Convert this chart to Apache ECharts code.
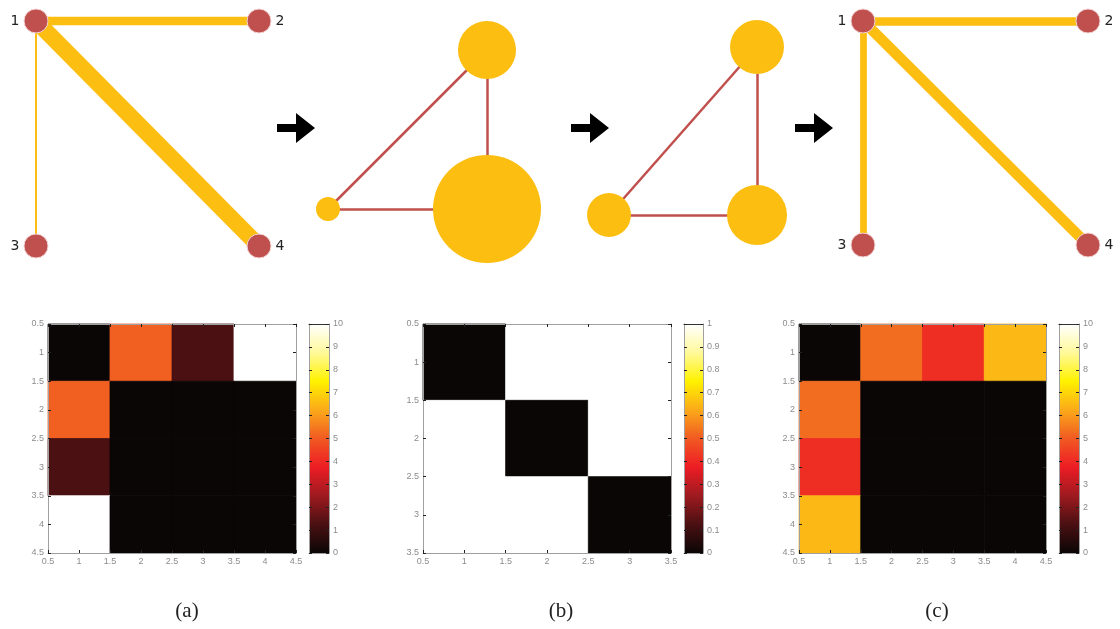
<!DOCTYPE html>
<html><head><meta charset="utf-8">
<script src="https://cdn.jsdelivr.net/npm/echarts@6/dist/echarts.min.js"></script>
<style>html,body{margin:0;padding:0;background:#fff}#c{width:1120px;height:629px}</style>
</head><body><div id="c"></div>
<script>
// ---------------- data ----------------
const nodeNames = ['1', '2', '3', '4'];
const nodeX = [0, 1, 0, 1];          // abstract layout coordinates of the 4-node star graphs
const nodeY = [0, 0, 1, 1];
const starEdges = [[0, 1], [0, 2], [0, 3]];
const weightsA = [5.1, 1.25, 10];    // edge weights 1-2, 1-3, 1-4 in graph (a)
const weightsC = [5.3, 4.1, 6.5];    // edge weights 1-2, 1-3, 1-4 in graph (c)

const commX = [1, 0, 1];             // community graph nodes: top, left, bottom-right
const commY = [0, 1, 1];
const commEdges = [[0, 1], [0, 2], [1, 2]];
const commWeightB = [2.42, 1, 4.5];
const commWeightC = [2.25, 1.83, 2.5];

const matA = [[0, 5.1, 1.25, 10], [5.1, 0, 0, 0], [1.25, 0, 0, 0], [10, 0, 0, 0]];
const matB = [[0, 1, 1], [1, 0, 1], [1, 1, 0]];
const matC = [[0, 5.3, 4.1, 6.5], [5.3, 0, 0, 0], [4.1, 0, 0, 0], [6.5, 0, 0, 0]];
const colorbarMax = [10, 1, 10];
const colorbarStep = [1, 0.1, 1];
const hotColors = ['#0b0606', '#4a1012', '#9e1a20', '#ed1c24', '#f15a22', '#fbaa19', '#fff200', '#fff99a', '#ffffff'];
const panelLabels = ['(a)', '(b)', '(c)'];

// ---------------- layout ----------------
const YELLOW = '#FDBE12', RED = '#C0504D';
const topGrids = [
  {left: 36, top: 21, width: 223, height: 225},
  {left: 328, top: 50, width: 159, height: 159},
  {left: 609, top: 47, width: 148, height: 168},
  {left: 863, top: 21, width: 225, height: 224}
];
const heatGrids = [
  {left: 48, top: 324, width: 248, height: 229},
  {left: 423, top: 324, width: 248, height: 229},
  {left: 799, top: 324, width: 247, height: 229}
];
const barGrids = [
  {left: 309, top: 324, width: 20, height: 229},
  {left: 684, top: 324, width: 19, height: 229},
  {left: 1059, top: 324, width: 20, height: 229}
];
const labelCenters = [187, 561, 937];
const arrowLefts = [277, 571, 795];

const grid = [], xAxis = [], yAxis = [], series = [], visualMap = [], graphic = [];

function addGrid(g) { grid.push(Object.assign({containLabel: false}, g)); return grid.length - 1; }

// top graphs
function addTopAxes(gi) {
  xAxis.push({type: 'value', gridIndex: gi, min: 0, max: 1, show: false});
  yAxis.push({type: 'value', gridIndex: gi, min: 0, max: 1, inverse: true, show: false});
  return [xAxis.length - 1, yAxis.length - 1];
}
function starGraph(gi, weights) {
  const [xi, yi] = addTopAxes(gi);
  series.push({
    type: 'graph', coordinateSystem: 'cartesian2d', xAxisIndex: xi, yAxisIndex: yi,
    silent: true, animation: false,
    data: nodeNames.map((n, i) => ({
      name: n, value: [nodeX[i], nodeY[i]], symbol: 'circle', symbolSize: 24,
      itemStyle: {color: RED, borderColor: '#f2d4d4', borderWidth: 1},
      label: {show: true, formatter: n, position: nodeX[i] === 0 ? 'left' : 'right', distance: 4,
        fontSize: 14, color: '#222', fontFamily: 'DejaVu Sans'}
    })),
    links: starEdges.map((e, i) => ({source: e[0], target: e[1],
      lineStyle: {width: weights[i] * 1.65, color: YELLOW, opacity: 1, curveness: 0}})),
    emphasis: {disabled: true}
  });
}
function commGraph(gi, w) {
  const [xi, yi] = addTopAxes(gi);
  series.push({
    type: 'graph', coordinateSystem: 'cartesian2d', xAxisIndex: xi, yAxisIndex: yi,
    silent: true, animation: false,
    data: commX.map((x, i) => ({
      name: 'n' + i, value: [x, commY[i]], symbol: 'circle', symbolSize: w[i] * 24,
      itemStyle: {color: YELLOW}, label: {show: false}
    })),
    links: commEdges.map(e => ({source: e[0], target: e[1],
      lineStyle: {width: 2.5, color: RED, opacity: 1, curveness: 0}})),
    emphasis: {disabled: true}
  });
}
starGraph(addGrid(topGrids[0]), weightsA);
commGraph(addGrid(topGrids[1]), commWeightB);
commGraph(addGrid(topGrids[2]), commWeightC);
starGraph(addGrid(topGrids[3]), weightsC);

// heatmaps
const labelStyle = {color: '#8c8c8c', fontSize: 9, fontFamily: 'Liberation Sans', margin: 4};
function boxAxis(kind, gi, min, max, interval, pos, showLabel, inverse) {
  const ax = {
    type: 'value', gridIndex: gi, min: min, max: max, interval: interval, position: pos, z: 5,
    inverse: !!inverse,
    axisLine: {show: true, onZero: false, lineStyle: {color: '#a0a0a0', width: 1}},
    axisTick: {show: interval > 0, inside: true, length: 3, lineStyle: {color: '#222'}},
    splitLine: {show: false},
    axisLabel: Object.assign({show: showLabel, showMinLabel: true, showMaxLabel: true}, labelStyle)
  };
  (kind === 'x' ? xAxis : yAxis).push(ax);
  return (kind === 'x' ? xAxis : yAxis).length - 1;
}
const mats = [matA, matB, matC];
mats.forEach((mat, k) => {
  const n = mat.length;
  const gi = addGrid(heatGrids[k]);
  const xi = boxAxis('x', gi, 0.5, n + 0.5, 0.5, 'bottom', true);
  boxAxis('x', gi, 0.5, n + 0.5, 0.5, 'top', false);
  const yi = boxAxis('y', gi, 0.5, n + 0.5, 0.5, 'left', true, true);
  boxAxis('y', gi, 0.5, n + 0.5, 0.5, 'right', false, true);
  const data = [];
  mat.forEach((row, i) => row.forEach((v, j) => data.push([j + 1, i + 1, v])));
  series.push({
    type: 'custom', xAxisIndex: xi, yAxisIndex: yi, silent: true, animation: false,
    encode: {x: 0, y: 1},
    data: data,
    renderItem: function (params, api) {
      const x = api.value(0), y = api.value(1);
      const p0 = api.coord([x - 0.5, y - 0.5]), p1 = api.coord([x + 0.5, y + 0.5]);
      const c = api.visual('color');
      return {type: 'rect', shape: {x: Math.min(p0[0], p1[0]), y: Math.min(p0[1], p1[1]),
        width: Math.abs(p1[0] - p0[0]), height: Math.abs(p1[1] - p0[1])},
        style: {fill: c, stroke: c, lineWidth: 0.8}};
    }
  });
  visualMap.push({type: 'continuous', show: false, min: 0, max: colorbarMax[k], dimension: 2,
    seriesIndex: series.length - 1, inRange: {color: hotColors}});

  // colorbar
  const bg = addGrid(barGrids[k]);
  const bx = boxAxis('x', bg, 0, 1, 0, 'bottom', false);
  xAxis[bx].axisTick = {show: false};
  const bxt = boxAxis('x', bg, 0, 1, 0, 'top', false);
  xAxis[bxt].axisTick = {show: false};
  xAxis[bxt].axisLine.lineStyle.color = '#333';
  const by = boxAxis('y', bg, 0, colorbarMax[k], colorbarStep[k], 'left', false);
  boxAxis('y', bg, 0, colorbarMax[k], colorbarStep[k], 'right', true);
  series.push({
    type: 'custom', xAxisIndex: bx, yAxisIndex: by, silent: true, animation: false,
    data: [[0, colorbarMax[k]]],
    renderItem: function (params, api) {
      const p0 = api.coord([0, api.value(0)]), p1 = api.coord([1, api.value(1)]);
      return {type: 'rect', shape: {x: p0[0], y: p1[1], width: p1[0] - p0[0], height: p0[1] - p1[1]},
        style: {fill: {type: 'linear', x: 0, y: 1, x2: 0, y2: 0, global: false,
          colorStops: hotColors.map((c, i) => ({offset: i / (hotColors.length - 1), color: c}))}}};
    }
  });
});

// panel labels
panelLabels.forEach((t, k) => graphic.push({
  type: 'text', x: labelCenters[k], y: 611, silent: true,
  style: {text: t, font: '21px "Liberation Serif"', fill: '#222', align: 'center', verticalAlign: 'middle'}
}));
// arrows
arrowLefts.forEach(x => graphic.push({
  type: 'polygon', x: x, y: 113, silent: true,
  shape: {points: [[0, 11], [19, 11], [19, 0], [38, 15], [19, 30], [19, 19], [0, 19]]},
  style: {fill: '#000'}
}));

const chart = echarts.init(document.getElementById('c'), null, {renderer: 'canvas'});
chart.setOption({animation: false, backgroundColor: '#fff', grid, xAxis, yAxis, series, visualMap, graphic});
</script></body></html>
